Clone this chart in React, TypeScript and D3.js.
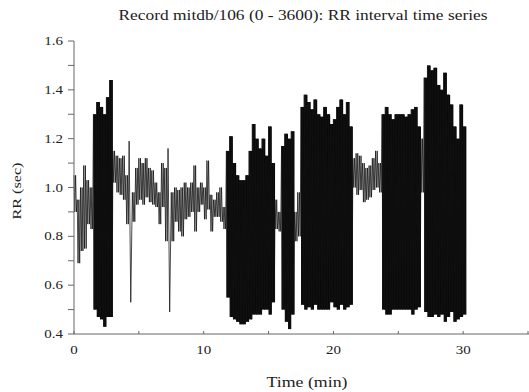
import * as d3 from "d3";

// RR interval envelope, read per quarter-minute bin (sec)
const binMinutes = 0.25;
const rrHigh = [
  1.05, 0.95, 1.0, 1.09, 1.03, 1.0, 1.3, 1.35,
  1.33, 1.3, 1.37, 1.44, 1.15, 1.13, 1.12, 1.13,
  1.05, 1.19, 0.98, 1.08, 1.12, 1.1, 1.12, 1.08,
  1.07, 1.02, 0.98, 1.1, 1.08, 1.16, 0.98, 1.0,
  0.99, 1.0, 1.02, 1.0, 1.02, 1.09, 1.0, 1.02,
  1.0, 1.11, 0.97, 0.95, 0.98, 1.0, 0.92, 1.15,
  1.21, 1.1, 1.05, 1.03, 1.03, 1.05, 1.15, 1.26,
  1.2, 1.16, 1.2, 1.13, 1.25, 1.1, 0.95, 0.9,
  1.17, 1.22, 1.2, 1.23, 0.9, 0.98, 1.33, 1.38,
  1.35, 1.32, 1.36, 1.3, 1.29, 1.33, 1.3, 1.26,
  1.28, 1.33, 1.36, 1.3, 1.35, 1.25, 1.12, 1.14,
  1.13, 1.1, 1.08, 1.09, 1.12, 1.15, 1.1, 1.3,
  1.33, 1.3, 1.28, 1.3, 1.3, 1.3, 1.29, 1.3,
  1.32, 1.33, 1.25, 1.2, 1.45, 1.5, 1.48, 1.49,
  1.42, 1.4, 1.47, 1.38, 1.34, 1.25, 1.2, 1.34,
  1.25,
];
const rrLow = [
  0.9, 0.69, 0.74, 0.75, 0.85, 0.83, 0.5, 0.47,
  0.46, 0.43, 0.47, 0.47, 1.02, 0.98, 0.97, 0.95,
  0.85, 0.53, 0.86, 0.93, 0.95, 0.93, 0.96, 0.94,
  0.93, 0.92, 0.85, 0.92, 0.78, 0.49, 0.78, 0.86,
  0.82, 0.8, 0.87, 0.88, 0.9, 0.82, 0.9, 0.93,
  0.87, 0.91, 0.82, 0.88, 0.88, 0.86, 0.83, 0.55,
  0.47, 0.46, 0.45, 0.44, 0.44, 0.45, 0.46, 0.48,
  0.48, 0.48, 0.5, 0.5, 0.48, 0.53, 0.83, 0.82,
  0.5, 0.45, 0.42, 0.48, 0.78, 0.8, 0.52, 0.5,
  0.51, 0.5, 0.52, 0.5, 0.5, 0.5, 0.5, 0.53,
  0.51, 0.5, 0.52, 0.5, 0.51, 0.52, 1.0, 0.97,
  0.99, 0.94, 0.95, 0.96, 0.99, 1.0, 0.98, 0.5,
  0.48, 0.48, 0.5, 0.5, 0.5, 0.5, 0.5, 0.5,
  0.48, 0.5, 0.51, 0.98, 0.49, 0.47, 0.47, 0.48,
  0.47, 0.48, 0.45, 0.47, 0.49, 0.45, 0.46, 0.47,
  0.48,
];

const xTicks = [0, 5, 10, 15, 20, 25, 30, 35];
const xLabels = [0, 10, 20, 30];
const yTicks = [0.4, 0.5, 0.6, 0.7, 0.8, 0.9, 1.0, 1.1, 1.2, 1.3, 1.4, 1.5, 1.6];
const yLabels = [0.4, 0.6, 0.8, 1.0, 1.2, 1.4, 1.6];

const width = 529;
const height = 392;
const font = "'Liberation Serif', 'Times New Roman', serif";

export default function App() {
  const x = d3.scaleLinear().domain([0, 35]).range([74, 528]);
  const y = d3.scaleLinear().domain([0.4, 1.6]).range([334, 41]);

  const spread = rrHigh.map((hi, i) => hi - rrLow[i]);
  // a bin counts as dense (alternating beats) when it and a neighbour swing wide
  const dense = spread.map(
    (s, i) => s >= 0.35 && ((spread[i - 1] ?? 0) >= 0.35 || (spread[i + 1] ?? 0) >= 0.35)
  );

  type Bin = { t: number; lo: number; hi: number; on: boolean };
  const bins: Bin[] = [];
  rrHigh.forEach((hi, i) => {
    const t0 = i * binMinutes;
    bins.push({ t: t0, lo: rrLow[i], hi, on: dense[i] });
    bins.push({ t: t0 + binMinutes, lo: rrLow[i], hi, on: dense[i] });
    if (!dense[i + 1]) bins.push({ t: t0 + binMinutes, lo: 0, hi: 0, on: false });
  });
  const area = d3
    .area<Bin>()
    .defined((d) => d.on)
    .x((d) => x(d.t))
    .y0((d) => y(d.lo))
    .y1((d) => y(d.hi));

  // zigzag between each bin's high and low; single sweep for lone spikes
  const pts: [number, number][] = [];
  rrHigh.forEach((hi, i) => {
    const t0 = i * binMinutes;
    const lo = rrLow[i];
    if (spread[i] >= 0.35 && !dense[i]) {
      pts.push([t0, hi], [t0 + binMinutes / 2, lo]);
    } else {
      const q = binMinutes / 4;
      pts.push([t0, hi], [t0 + q, lo], [t0 + 2 * q, hi], [t0 + 3 * q, lo]);
    }
  });
  const line = d3
    .line<[number, number]>()
    .x((d) => x(d[0]))
    .y((d) => y(d[1]));

  const ink = "#222";
  const axisColor = "#666";

  return (
    <svg
      width={width}
      height={height}
      style={{ position: "absolute", left: 0, top: 0, background: "#fff" }}
      fontFamily={font}
    >
      <text
        x={303}
        y={20}
        fontSize={14.5}
        textAnchor="middle"
        textLength={369}
        lengthAdjust="spacingAndGlyphs"
        fill={ink}
      >
        Record mitdb/106 (0 - 3600): RR interval time series
      </text>

      <path d={area(bins) ?? ""} fill="#080808" />
      <path
        d={line(pts) ?? ""}
        fill="none"
        stroke="#111"
        strokeWidth={0.9}
        strokeOpacity={0.85}
        strokeLinejoin="round"
      />

      {/* y axis */}
      <line x1={74} x2={74} y1={y(1.6)} y2={y(0.4)} stroke={axisColor} />
      {yTicks.map((v) => (
        <line key={v} x1={68} x2={74} y1={y(v)} y2={y(v)} stroke={axisColor} />
      ))}
      {yLabels.map((v) => (
        <text
          key={v}
          transform={`translate(63,${y(v) + 4}) scale(1.2,1)`}
          fontSize={12.5}
          textAnchor="end"
          fill={ink}
        >
          {v.toFixed(1)}
        </text>
      ))}

      {/* x axis */}
      <line x1={74} x2={529} y1={y(0.4)} y2={y(0.4)} stroke={axisColor} />
      {xTicks.map((v) => (
        <line key={v} x1={x(v)} x2={x(v)} y1={y(0.4) - 3} y2={y(0.4)} stroke={axisColor} />
      ))}
      {xLabels.map((v) => (
        <text
          key={v}
          transform={`translate(${x(v)},354) scale(1.2,1)`}
          fontSize={12.5}
          textAnchor="middle"
          fill={ink}
        >
          {v}
        </text>
      ))}

      <text
        x={307}
        y={387}
        fontSize={14}
        textAnchor="middle"
        textLength={81}
        lengthAdjust="spacingAndGlyphs"
        fill={ink}
      >
        Time (min)
      </text>
      <text
        transform={`translate(21,191) rotate(-90)`}
        fontSize={13.5}
        textAnchor="middle"
        textLength={57}
        lengthAdjust="spacingAndGlyphs"
        fill={ink}
      >
        RR (sec)
      </text>
    </svg>
  );
}
